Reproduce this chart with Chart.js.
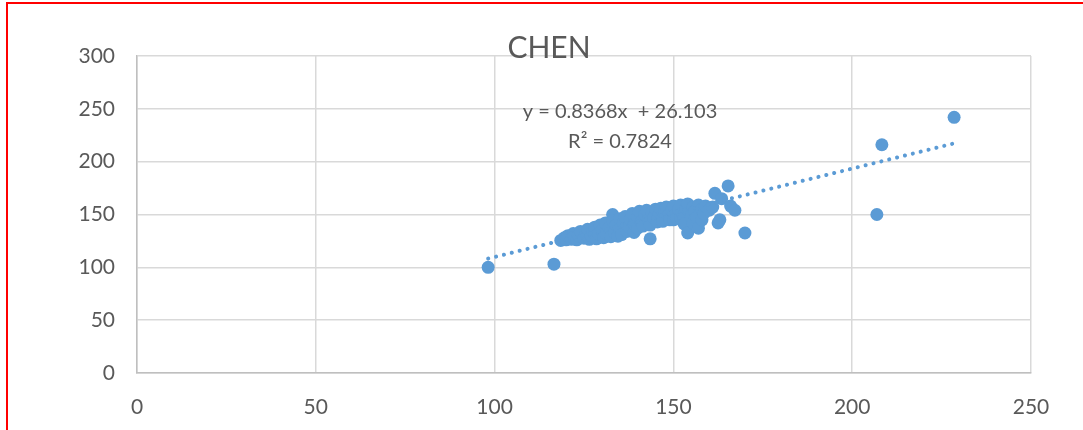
<!DOCTYPE html>
<html>
<head>
<meta charset="utf-8">
<title>CHEN</title>
<script src="https://cdn.jsdelivr.net/npm/chart.js@4.4.1/dist/chart.umd.min.js"></script>
<style>
    html, body { margin: 0; padding: 0; background: #fff; overflow: hidden; }
    #wrap { position: relative; width: 1083px; height: 430px; }
    #frame { position: absolute; left: 6px; top: 2px; width: 1090px; height: 460px; border: 2px solid #ff0000; box-sizing: border-box; pointer-events: none; }
    canvas { position: absolute; left: 0; top: 0; }
</style>
</head>
<body>
<div id="wrap">
    <canvas id="chen" width="1083" height="430"></canvas>
    <div id="frame"></div>
</div>
<script>
    // values
    var pointsX = [
        98.2, 116.6,
        118.5, 119.5, 120, 120.5, 121.5, 122, 122,
        123, 123.5, 124, 125, 125.5, 126, 126.5, 127,
        127.5, 128, 128.5, 129, 129.5, 130, 130.5, 131, 131,
        132, 132.5, 133, 133, 133.5, 134, 134.5, 135, 135, 135.5,
        136, 136.5, 137, 137.5, 138, 138.5, 139, 139, 140, 140, 140.5,
        141, 141.5, 142, 142.5, 143, 143.5, 143.5, 144, 144.5, 145, 145.5,
        146, 146.5, 147, 147, 147.5, 148, 148.5, 149, 149.5, 150, 150, 150.5, 151,
        151.5, 152, 152, 152.5, 153, 153, 153.5, 154, 154, 154.5, 155, 155.5, 155.5, 156, 156.5, 157, 157, 158,
        158, 158.5, 159, 160, 161,
        161.6, 162.5, 163, 163.5, 165.3, 166, 167.2, 170,
        206.9, 208.3, 228.5
    ];
    var pointsY = [
        100, 103,
        125.5, 128, 126, 130, 126.5, 132, 128,
        126, 130, 134, 127.5, 131.5, 136, 126.5, 130,
        134, 138, 127, 131.5, 140, 135, 128, 142, 132,
        137.5, 129, 150, 144, 133, 140, 129.5, 146, 136, 131,
        142, 148, 134, 138.5, 145, 151, 133, 141, 147, 137, 153,
        143, 139, 150, 154, 145, 127, 140, 152, 147, 155, 143,
        150, 156, 146, 143.5, 153, 157, 149, 145, 154, 158, 145, 150, 146,
        155, 159, 147, 151, 147, 141, 156, 160, 132.5, 152, 148, 157, 142, 153, 147, 137, 159, 145,
        155, 151, 158, 154, 157,
        170, 142, 145, 165, 177, 158, 154, 132.5,
        150, 216, 242
    ];
    var xTicks = [0, 50, 100, 150, 200, 250];
    var yTicks = [0, 50, 100, 150, 200, 250, 300];

    var trendSlope = 0.8368;
    var trendIntercept = 26.103;
    var trendLabel = 'y = 0.8368x  + 26.103';
    var r2Label = 'R\u00b2 = 0.7824';
    var chartTitle = 'CHEN';

    var blue = '#5b9bd5';
    var textColor = '#595959';
    var fontFamily = 'Lato, "Open Sans", sans-serif';

    var points = pointsX.map(function (x, i) {
        return {x: x, y: pointsY[i]};
    });

    // excel trendline spans the data range
    var xMin = Math.min.apply(null, pointsX);
    var xMax = Math.max.apply(null, pointsX);
    var trend = [xMin, xMax].map(function (x) {
        return {x: x, y: trendSlope * x + trendIntercept};
    });

    var textPlugin = {
        id: 'chenText',
        afterDraw: function (chart) {
            var ctx = chart.ctx;
            ctx.save();
            ctx.fillStyle = textColor;
            ctx.textAlign = 'center';
            ctx.textBaseline = 'middle';

            ctx.font = '30px ' + fontFamily;
            ctx.fillText(chartTitle, 549, 48);

            ctx.font = '20px ' + fontFamily;
            ctx.fillText(trendLabel, 620, 112);
            ctx.fillText(r2Label, 620, 142);
            ctx.restore();
        }
    };

    new Chart(document.getElementById('chen'), {
        type: 'scatter',
        data: {
            datasets: [{
                label: 'CHEN',
                data: points,
                backgroundColor: blue,
                borderWidth: 0,
                pointRadius: 6.5,
                pointHoverRadius: 6.5,
                order: 2
            }, {
                type: 'line',
                label: 'trend',
                data: trend,
                borderColor: blue,
                borderWidth: 4,
                borderDash: [0.1, 8],
                borderCapStyle: 'round',
                pointRadius: 0,
                fill: false,
                order: 1
            }]
        },
        options: {
            responsive: false,
            animation: false,
            layout: {
                padding: {top: 56, right: 52, left: 0, bottom: 0}
            },
            plugins: {
                legend: {display: false},
                title: {display: false},
                tooltip: {enabled: false}
            },
            scales: {
                x: {
                    type: 'linear',
                    min: 0,
                    max: 250,
                    afterBuildTicks: function (scale) {
                        scale.ticks = xTicks.map(function (v) { return {value: v}; });
                    },
                    afterFit: function (scale) { scale.height = 57; },
                    grid: {color: '#d9d9d9', lineWidth: 1.5, drawTicks: false},
                    border: {color: '#bfbfbf', width: 1.5},
                    ticks: {color: textColor, padding: 22, font: {family: fontFamily, size: 21}}
                },
                y: {
                    type: 'linear',
                    min: 0,
                    max: 300,
                    afterBuildTicks: function (scale) {
                        scale.ticks = yTicks.map(function (v) { return {value: v}; });
                    },
                    afterFit: function (scale) { scale.width = 137; },
                    grid: {color: '#d9d9d9', lineWidth: 1.5, drawTicks: false},
                    border: {color: '#bfbfbf', width: 1.5},
                    ticks: {color: textColor, padding: 22, font: {family: fontFamily, size: 21}}
                }
            }
        },
        plugins: [textPlugin]
    });
</script>
</body>
</html>
